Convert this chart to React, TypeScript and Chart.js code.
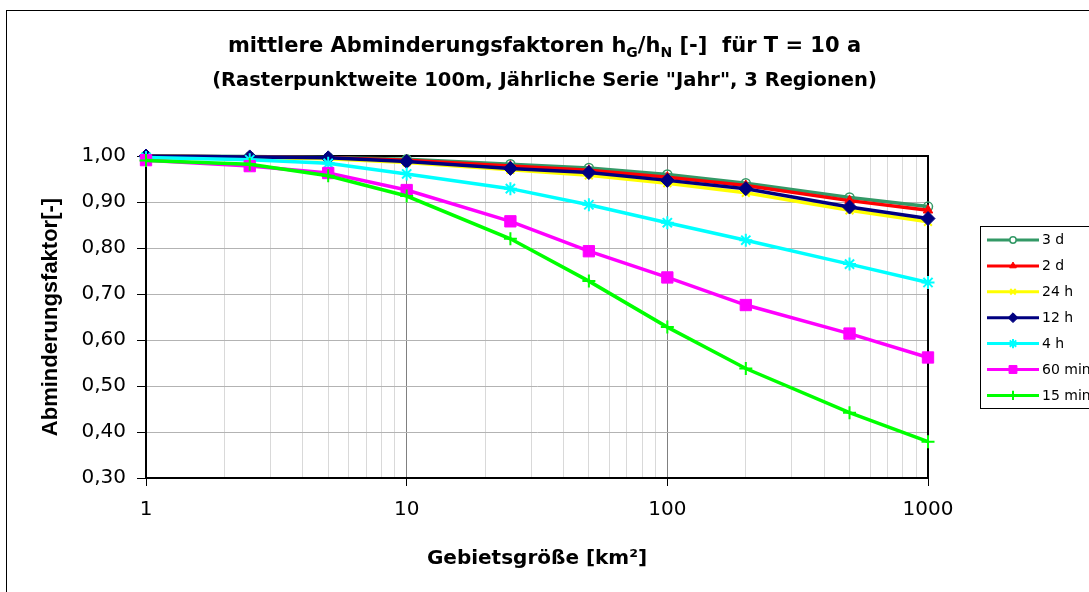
import React, { useEffect, useRef } from 'react';
import { Chart, registerables } from 'chart.js';
import { drawPoint } from 'chart.js/helpers';

Chart.register(...registerables);

// Catchment area [km²]
const areas = [1, 2.5, 5, 10, 25, 50, 100, 200, 500, 1000];

// Mean areal reduction factors hG/hN for each rain duration
const dur3d = [1.0, 0.999, 0.997, 0.993, 0.982, 0.974, 0.96, 0.941, 0.91, 0.89];
const dur2d = [1.0, 0.998, 0.996, 0.991, 0.978, 0.969, 0.954, 0.936, 0.903, 0.882];
const dur24h = [1.0, 0.997, 0.994, 0.986, 0.97, 0.958, 0.941, 0.92, 0.882, 0.857];
const dur12h = [1.0, 0.998, 0.996, 0.988, 0.973, 0.964, 0.947, 0.929, 0.889, 0.864];
const dur4h = [0.997, 0.992, 0.984, 0.961, 0.929, 0.894, 0.855, 0.817, 0.765, 0.725];
const dur60min = [0.991, 0.978, 0.963, 0.926, 0.858, 0.793, 0.736, 0.676, 0.614, 0.562];
const dur15min = [0.99, 0.982, 0.957, 0.913, 0.82, 0.728, 0.628, 0.538, 0.442, 0.379];

const seriesLabels = ['3 d', '2 d', '24 h', '12 h', '4 h', '60 min', '15 min'];
const seriesValues = [dur3d, dur2d, dur24h, dur12h, dur4h, dur60min, dur15min];

// Axis tick values
const xLabelValues = [1, 10, 100, 1000];
const xGridValues = [
  1, 2, 3, 4, 5, 6, 7, 8, 9,
  10, 20, 30, 40, 50, 60, 70, 80, 90,
  100, 200, 300, 400, 500, 600, 700, 800, 900,
  1000,
];
const yMin = 0.3;
const yMax = 1.0;
const yStep = 0.1;

const LABEL_FONT = "'DejaVu Sans', sans-serif";
const ARIAL = "'Liberation Sans', Arial, sans-serif";

type SeriesStyle = {
  color: string;
  fill: string;
  pointStyle: string;
  radius: number;
  pointBorderWidth: number;
};

const seriesStyles: SeriesStyle[] = [
  { color: '#339966', fill: 'rgba(0,0,0,0)', pointStyle: 'circle', radius: 4.5, pointBorderWidth: 1.5 },
  { color: '#FF0000', fill: '#FF0000', pointStyle: 'triangle', radius: 5.5, pointBorderWidth: 1 },
  { color: '#FFFF00', fill: '#FFFF00', pointStyle: 'crossRot', radius: 5.5, pointBorderWidth: 2 },
  { color: '#000080', fill: '#000080', pointStyle: 'rectRot', radius: 7, pointBorderWidth: 1 },
  { color: '#00FFFF', fill: '#00FFFF', pointStyle: 'star', radius: 6.5, pointBorderWidth: 2 },
  { color: '#FF00FF', fill: '#FF00FF', pointStyle: 'rect', radius: 8, pointBorderWidth: 1 },
  { color: '#00FF00', fill: '#00FF00', pointStyle: 'cross', radius: 6.5, pointBorderWidth: 2 },
];

// Outer chart border, plot frame and legend box
const framePlugin = {
  id: 'frame',
  beforeDraw(chart: any) {
    const { ctx } = chart;
    ctx.save();
    ctx.strokeStyle = '#000';
    ctx.lineWidth = 1;
    ctx.strokeRect(6.5, 10.5, 1200, 800);
    ctx.restore();
  },
  beforeDatasetsDraw(chart: any) {
    const { ctx, chartArea } = chart;
    ctx.save();
    ctx.strokeStyle = '#000';
    ctx.lineWidth = 2;
    ctx.beginPath();
    ctx.moveTo(chartArea.left, chartArea.top);
    ctx.lineTo(chartArea.right, chartArea.top);
    ctx.lineTo(chartArea.right, chartArea.bottom);
    ctx.stroke();
    ctx.restore();
  },
  afterDraw(chart: any) {
    const { ctx } = chart;
    const boxLeft = 980.5;
    const boxTop = 226.5;
    const boxHeight = 182;
    const rowStart = 240;
    const rowGap = 25.9;
    ctx.save();
    ctx.strokeStyle = '#000';
    ctx.lineWidth = 1;
    ctx.strokeRect(boxLeft, boxTop, 200, boxHeight);
    ctx.font = `14px ${LABEL_FONT}`;
    ctx.textBaseline = 'middle';
    ctx.textAlign = 'left';
    seriesLabels.forEach((label, i) => {
      const st = seriesStyles[i];
      const y = rowStart + i * rowGap;
      ctx.strokeStyle = st.color;
      ctx.lineWidth = 3;
      ctx.beginPath();
      ctx.moveTo(987, y);
      ctx.lineTo(1039, y);
      ctx.stroke();
      ctx.fillStyle = st.fill === 'rgba(0,0,0,0)' ? '#fff' : st.fill;
      ctx.strokeStyle = st.color;
      ctx.lineWidth = st.pointBorderWidth;
      drawPoint(ctx, {
        pointStyle: st.pointStyle as any,
        radius: st.radius * 0.7,
        rotation: 0,
        borderWidth: st.pointBorderWidth,
      } as any, 1013, y);
      ctx.fillStyle = '#000';
      ctx.fillText(label, 1042, y + 0.5);
    });
    ctx.restore();
  },
};

const subStyle: React.CSSProperties = {
  fontSize: 14,
  position: 'relative',
  top: 5,
};

export default function App() {
  const canvasRef = useRef<HTMLCanvasElement>(null);

  useEffect(() => {
    const canvas = canvasRef.current;
    if (!canvas) return;
    const n = seriesLabels.length;
    const chart = new Chart(canvas, {
      type: 'line',
      data: {
        datasets: seriesLabels.map((label, i) => {
          const st = seriesStyles[i];
          return {
            label,
            data: areas.map((x, j) => ({ x, y: seriesValues[i][j] })),
            borderColor: st.color,
            backgroundColor: st.fill,
            borderWidth: 3.5,
            pointStyle: st.pointStyle as any,
            pointRadius: st.radius,
            pointBorderColor: st.color,
            pointBackgroundColor: st.fill,
            pointBorderWidth: st.pointBorderWidth,
            tension: 0,
            clip: false as any,
            order: n - 1 - i,
          };
        }),
      },
      options: {
        responsive: false,
        animation: false,
        devicePixelRatio: 1,
        events: [],
        layout: {
          autoPadding: false,
          padding: { left: 0, top: 156, right: 161, bottom: 0 },
        },
        plugins: {
          legend: { display: false },
          title: { display: false },
          tooltip: { enabled: false },
        },
        scales: {
          x: {
            type: 'logarithmic',
            min: 1,
            max: 1000,
            afterBuildTicks: (scale: any) => {
              scale.ticks = xGridValues.map((v) => ({ value: v }));
            },
            afterFit: (scale: any) => {
              scale.height = 114;
            },
            grid: {
              color: (ctx: any) =>
                ctx.tick && (ctx.tick.value === 10 || ctx.tick.value === 100) ? '#808080' : '#d9d9d9',
              tickColor: (ctx: any) =>
                ctx.tick && xLabelValues.includes(ctx.tick.value) ? '#000' : 'rgba(0,0,0,0)',
              tickLength: 8,
              lineWidth: 1,
            },
            border: { color: '#000', width: 2 },
            ticks: {
              autoSkip: false,
              maxRotation: 0,
              minRotation: 0,
              padding: 12,
              color: '#000',
              font: { family: LABEL_FONT, size: 20 },
              callback: (value: any) => (xLabelValues.includes(Number(value)) ? String(value) : ''),
            },
            title: {
              display: true,
              text: 'Gebietsgröße [km²]',
              color: '#000',
              font: { family: LABEL_FONT, size: 20, weight: 'bold' },
              padding: { top: 0, bottom: 21 },
            },
          },
          y: {
            type: 'linear',
            min: yMin,
            max: yMax,
            afterFit: (scale: any) => {
              scale.width = 146;
            },
            grid: {
              color: '#b3b3b3',
              tickColor: '#000',
              tickLength: 9,
              lineWidth: 1,
            },
            border: { color: '#000', width: 2 },
            ticks: {
              stepSize: yStep,
              padding: 11,
              color: '#000',
              font: { family: LABEL_FONT, size: 20 },
              callback: (value: any) => Number(value).toFixed(2).replace('.', ','),
            },
            title: {
              display: true,
              text: 'Abminderungsfaktor[-]',
              color: '#000',
              font: { family: ARIAL, size: 22, weight: 'bold' },
              padding: { top: 38, bottom: 0 },
            },
          },
        },
      },
      plugins: [framePlugin],
    } as any);
    return () => chart.destroy();
  }, []);

  return (
    <div
      style={{
        position: 'fixed',
        left: 0,
        top: 0,
        width: 1089,
        height: 592,
        overflow: 'hidden',
        background: '#fff',
      }}
    >
      <canvas
        ref={canvasRef}
        width={1089}
        height={592}
        style={{ position: 'absolute', left: 0, top: 0, width: 1089, height: 592 }}
      />
      <div
        style={{
          position: 'absolute',
          left: 0,
          top: 33,
          width: 1089,
          textAlign: 'center',
          fontFamily: LABEL_FONT,
          fontWeight: 'bold',
          fontSize: 21,
          lineHeight: '25px',
          color: '#000',
          whiteSpace: 'pre',
        }}
      >
        mittlere Abminderungsfaktoren h<span style={subStyle}>G</span>/h<span style={subStyle}>N</span>
        {' [-]\u00a0 für T = 10 a'}
      </div>
      <div
        style={{
          position: 'absolute',
          left: 0,
          top: 68,
          width: 1089,
          textAlign: 'center',
          fontFamily: LABEL_FONT,
          fontWeight: 'bold',
          fontSize: 19.5,
          lineHeight: '23px',
          color: '#000',
          whiteSpace: 'pre',
        }}
      >
        (Rasterpunktweite 100m, Jährliche Serie "Jahr", 3 Regionen)
      </div>
    </div>
  );
}
